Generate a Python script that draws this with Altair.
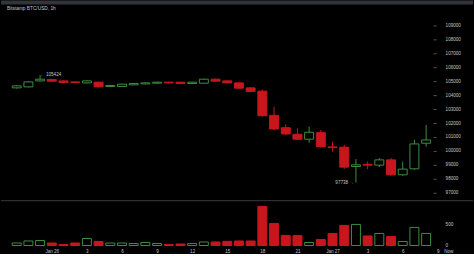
import altair as alt
import pandas as pd

# Hourly BTC/USD candles, Jan 25 21:00 through Jan 27 08:00 (hours counted from Jan 26 00:00)
hours = list(range(-3, 33))
opens = [104522, 104593, 105022, 105122, 105022, 104950, 104879, 104929, 104622, 104622,
         104736, 104807, 104857, 104929, 104929, 104836, 104857, 105143, 105022, 104879,
         104522, 104286, 102550, 101665, 101193, 100836, 101307, 100286, 100265, 98878,
         99036, 98978, 99357, 98286, 98714, 100550]
highs = [104720, 105000, 105424, 105180, 105060, 104990, 105060, 104970, 104730, 104820,
         104870, 104910, 104960, 104960, 104960, 104960, 105180, 105190, 105060, 104920,
         104560, 104408, 103165, 101907, 101622, 101736, 101500, 100665, 100429, 99407,
         99236, 99479, 99479, 99236, 100786, 101857]
lows = [104470, 104560, 104980, 104960, 104880, 104870, 104850, 104560, 104590, 104600,
        104710, 104780, 104830, 104850, 104810, 104810, 104830, 104970, 104850, 104470,
        104230, 102450, 101500, 101143, 100786, 100593, 100215, 99950, 98693, 97738,
        98693, 98835, 98214, 98214, 98643, 100307]
closes = [104665, 104950, 105143, 105000, 104907, 104907, 105022, 104593, 104693, 104786,
          104836, 104879, 104929, 104879, 104836, 104929, 105143, 105000, 104879, 104500,
          104265, 102522, 101572, 101214, 100836, 101336, 100307, 100236, 98835, 98999,
          98978, 99357, 98286, 98693, 100500, 100786]
volumes = [60, 108, 120, 60, 25, 60, 168, 96, 60, 60,
           48, 72, 48, 25, 36, 48, 84, 84, 100, 108,
           108, 936, 528, 240, 240, 72, 144, 288, 480, 504,
           228, 288, 216, 96, 432, 288]

price_ticks = list(range(97000, 110000, 1000))
volume_ticks = [0, 500]
time_ticks = [0, 3, 6, 9, 12, 15, 18, 21, 24, 27, 30, 33, 33.9]

UP = "#3b8f3f"
DOWN = "#c8161d"
BG = "#000000"
TXT = "#c4c4c4"
FONT = "Liberation Sans"

df = pd.DataFrame({"hour": hours, "open": opens, "high": highs, "low": lows,
                   "close": closes, "volume": volumes})
df["dir"] = ["up" if c >= o else "down" for o, c in zip(opens, closes)]

hi_i = highs.index(max(highs))
lo_i = lows.index(min(lows))
hi_df = pd.DataFrame({"hour": [hours[hi_i]], "price": [highs[hi_i]],
                      "label": [f"\u2190 {highs[hi_i]}"]})
lo_df = pd.DataFrame({"hour": [hours[lo_i]], "price": [lows[lo_i]],
                      "label": [f"{lows[lo_i]} \u2192"]})
one = pd.DataFrame({"k": [0]})

W = 474
x_scale = alt.Scale(domain=[-3.917, 35.583], nice=False, zero=False)
y_scale = alt.Scale(domain=[96500, 110786], nice=False, zero=False)
dir_color = alt.Color("dir:N", scale=alt.Scale(domain=["up", "down"], range=[UP, DOWN]), legend=None)
body_fill = alt.condition(alt.datum.dir == "up", alt.value(BG), alt.value(DOWN))

x_none = alt.X("hour:Q", scale=x_scale, axis=None)

price_axis = alt.Axis(orient="right", offset=-40, values=price_ticks, format="d",
                      labelFontSize=4.6, labelColor=TXT, labelFont=FONT, labelPadding=9,
                      labelOverlap=False, labelFlush=False, labelBound=False,
                      tickSize=3, tickColor="#555555", domain=False, grid=False, title=None)

strip = alt.Chart(one).mark_rect(color="#30343c").encode(
    x=alt.value(0), x2=alt.value(W), y=alt.value(0), y2=alt.value(4))

title = alt.Chart(one).mark_text(text="Bitstamp BTC/USD, 1h", align="left", baseline="middle",
                                 fontSize=4.8, font=FONT, color=TXT).encode(
    x=alt.value(6), y=alt.value(9))

wicks = alt.Chart(df).mark_rule(strokeWidth=1).encode(
    x=x_none,
    y=alt.Y("low:Q", scale=y_scale, axis=price_axis),
    y2="high:Q",
    color=dir_color)

bodies = alt.Chart(df).mark_bar(size=9, strokeWidth=1).encode(
    x=x_none,
    y=alt.Y("open:Q", scale=y_scale, axis=price_axis),
    y2="close:Q",
    fill=body_fill,
    stroke=dir_color)

hi_text = alt.Chart(hi_df).mark_text(align="left", baseline="middle", dx=0, fontSize=4.6,
                                     font=FONT, color=TXT).encode(
    x=x_none, y=alt.Y("price:Q", scale=y_scale, axis=price_axis), text="label:N")

lo_text = alt.Chart(lo_df).mark_text(align="right", baseline="middle", dx=-2, dy=1, fontSize=4.6,
                                     font=FONT, color=TXT).encode(
    x=x_none, y=alt.Y("price:Q", scale=y_scale, axis=price_axis), text="label:N")

price = alt.layer(strip, title, wicks, bodies, hi_text, lo_text).properties(width=W, height=200)

time_axis = alt.Axis(values=time_ticks, labelExpr=(
    "datum.value > 33.5 ? 'Now' : datum.value == 0 ? 'Jan 26' : "
    "datum.value == 24 ? 'Jan 27' : toString(datum.value % 24)"),
    labelFontSize=4.6, labelColor=TXT, labelFont=FONT, labelPadding=3, labelOverlap=False,
    ticks=False, domain=False, grid=False, title=None, labelFlush=False)

vol_scale = alt.Scale(domain=[0, 1095], nice=False)
vol_axis = alt.Axis(orient="right", offset=-40, values=volume_ticks, format="d",
                    labelFontSize=4.6, labelColor=TXT, labelFont=FONT, labelPadding=12,
                    labelOverlap=False, labelFlush=False,
                    tickSize=0, domain=False, grid=False, title=None)

divider = alt.Chart(one).mark_rule(color="#3a3a3a", strokeWidth=1).encode(
    x=alt.value(0), x2=alt.value(W), y=alt.value(1))

vol_bars = alt.Chart(df).mark_bar(size=9, strokeWidth=1).encode(
    x=alt.X("hour:Q", scale=x_scale, axis=time_axis),
    y=alt.Y("volume:Q", scale=vol_scale, axis=vol_axis),
    fill=body_fill,
    stroke=dir_color)

volume = alt.layer(divider, vol_bars).properties(width=W, height=46)

chart = alt.vconcat(price, volume, spacing=0).properties(
    background=BG, padding=0
).configure_view(stroke=None).configure_concat(spacing=0)

chart.save("out.html", embed_options={"renderer": "svg", "actions": False})
